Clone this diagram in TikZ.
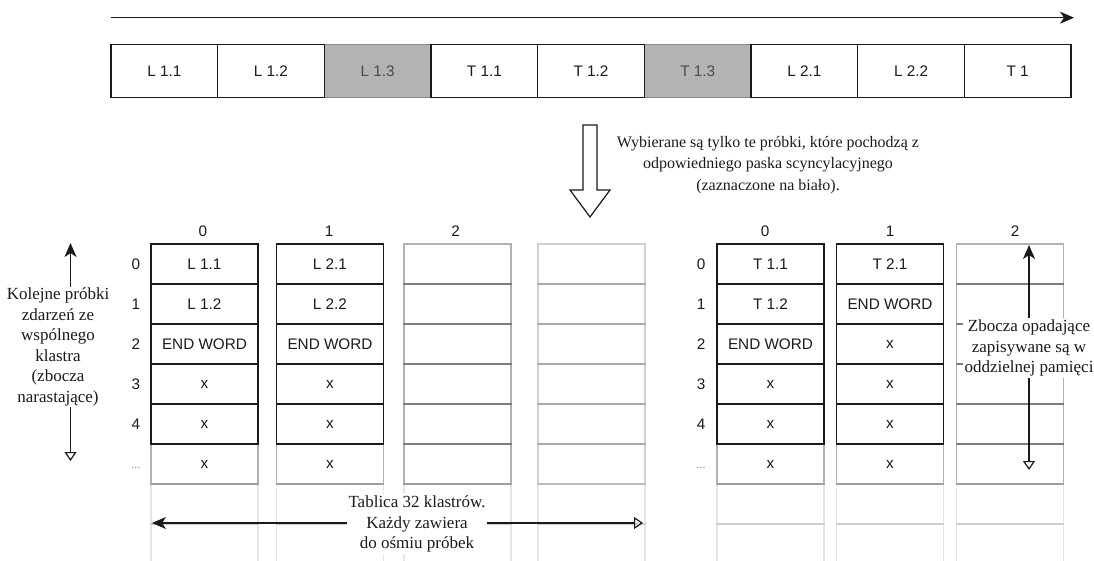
\documentclass[tikz,border=0pt]{standalone}
\usepackage{fontspec}
\setmainfont{Liberation Serif}
\newfontfamily\sansf{Liberation Sans}
\usetikzlibrary{arrows.meta}
\definecolor{ink}{HTML}{1A1A1A}
\definecolor{shade}{HTML}{B3B3B3}
\definecolor{shadeline}{HTML}{8A8A8A}
\definecolor{shadetext}{HTML}{4A4A4A}
\definecolor{dotgrey}{HTML}{777777}
\begin{document}
\begin{tikzpicture}[x=1pt,y=-1pt,
  sanstext/.style={font=\sansf\fontsize{15.3}{18}\selectfont, text=ink},
  serif/.style={font=\fontsize{17}{20.5}\selectfont, text=ink, align=center, inner sep=1.5pt},
  barcell/.style={sanstext, draw=ink, line width=1.3pt, fill=white, minimum width=106.67pt, minimum height=53.4pt, inner sep=0pt, outer sep=0pt},
  barshade/.style={barcell, fill=shade, draw=shadeline, text=shadetext},
  tcell/.style={sanstext, minimum width=107pt, minimum height=40pt, inner sep=0pt, outer sep=0pt},
  blackcell/.style={tcell, draw=ink, line width=1.3pt, fill=white},
  midcell/.style={tcell, draw=black, draw opacity=0.3, line width=1.2pt},
  lightcell/.style={tcell, draw=black, draw opacity=0.18, line width=1.2pt},
  faintcell/.style={tcell, draw=black, draw opacity=0.1, line width=1.2pt},
  conn/.style={draw=ink, line width=1.2pt},
  hollowarrow/.style={draw=ink, line width=1.2pt, fill=white, line join=miter}
]
\useasboundingbox (0,0) rectangle (1094,561);

% ---------- top timeline ----------
\coordinate (tl) at (111,17.7);
\coordinate (tr) at (1074,17.7);
\draw[conn, -{Stealth[length=14pt,width=12pt,inset=4pt]}] (tl) -- (tr);

\foreach \i/\t in {2/L 1.3, 5/T 1.3}
  \node[barshade] (bar\i) at ({111+106.67*(\i+0.5)},71) {\t};
\foreach \i/\t in {0/L 1.1, 1/L 1.2, 3/T 1.1, 4/T 1.2, 6/L 2.1, 7/L 2.2, 8/T 1}
  \node[barcell] (bar\i) at ({111+106.67*(\i+0.5)},71) {\t};

% ---------- big hollow arrow ----------
\draw[hollowarrow] (583,125) -- (597,125) -- (597,190) -- (610,190) -- (590,217)
  -- (570,190) -- (583,190) -- cycle;
\node[serif, font=\fontsize{16}{21.5}\selectfont] (info) at (768,165)
  {Wybierane są tylko te próbki, które pochodzą z\\odpowiedniego paska scyncylacyjnego\\(zaznaczone na biało).};

% ---------- faint continuation rows ----------
\foreach \xc in {204.5,330,457.5,591.5,770.5,890,1010}
  \foreach \r in {6,7}
    \node[faintcell] (f\xc-\r) at (\xc,{264+40*\r}) {};

% ---------- light column (left col 3) ----------
\foreach \r in {0,...,5}
  \node[lightcell] (L3-\r) at (591.5,{264+40*\r}) {};

% ---------- mid grey columns (col 2) ----------
\foreach \r in {0,...,5} {
  \node[midcell] (L2-\r) at (457.5,{264+40*\r}) {};
  \node[midcell] (R2-\r) at (1010,{264+40*\r}) {};
}

% ---------- row 5 (grey border, x) ----------
\node[midcell] (L0-5) at (204.5,464) {x};
\node[midcell] (L1-5) at (330,464) {x};
\node[midcell] (R0-5) at (770.5,464) {x};
\node[midcell] (R1-5) at (890,464) {x};

% ---------- black cells ----------
\foreach \r/\t in {0/L 1.1, 1/L 1.2, 2/END WORD, 3/x, 4/x}
  \node[blackcell] (L0-\r) at (204.5,{264+40*\r}) {\t};
\foreach \r/\t in {0/L 2.1, 1/L 2.2, 2/END WORD, 3/x, 4/x}
  \node[blackcell] (L1-\r) at (330,{264+40*\r}) {\t};
\foreach \r/\t in {0/T 1.1, 1/T 1.2, 2/END WORD, 3/x, 4/x}
  \node[blackcell] (R0-\r) at (770.5,{264+40*\r}) {\t};
\foreach \r/\t in {0/T 2.1, 1/END WORD, 2/x, 3/x, 4/x}
  \node[blackcell] (R1-\r) at (890,{264+40*\r}) {\t};

% ---------- headers ----------
\node[sanstext] (hL0) at (203,231) {0};
\node[sanstext] (hL1) at (329,231) {1};
\node[sanstext] (hL2) at (455.5,231) {2};
\node[sanstext] (hR0) at (765,231) {0};
\node[sanstext] (hR1) at (890,231) {1};
\node[sanstext] (hR2) at (1015,231) {2};

\foreach \r in {0,...,4} {
  \node[sanstext] (rl\r) at (136,{264+40*\r}) {\r};
  \node[sanstext] (rr\r) at (701,{264+40*\r}) {\r};
}
\node[sanstext, text=dotgrey, font=\sansf\fontsize{11}{13}\selectfont] (rl5) at (136,468) {...};
\node[sanstext, text=dotgrey, font=\sansf\fontsize{11}{13}\selectfont] (rr5) at (701,468) {...};

% ---------- left annotation ----------
\coordinate (lt) at (70.5,243);
\coordinate (lb) at (70.5,461);
\draw[conn, {Triangle[open,length=9pt,width=12pt]}-{Stealth[length=14pt,width=12pt,inset=4pt]}] (lb) -- (lt);
\node[serif, fill=white] (lnote) at (58,347)
  {Kolejne próbki\\zdarzeń ze\\wspólnego\\klastra\\(zbocza\\narastające)};

% ---------- right annotation ----------
\coordinate (rt) at (1029,245);
\coordinate (rb) at (1029,470);
\draw[conn, {Triangle[open,length=9pt,width=12pt]}-{Stealth[length=14pt,width=12pt,inset=4pt]}] (rb) -- (rt);
\node[serif, fill=white] (rnote) at (1029,348)
  {Zbocza opadające\\zapisywane są w\\oddzielnej pamięci};

% ---------- bottom annotation ----------
\coordinate (bl) at (152,523);
\coordinate (br) at (643,523);
\draw[conn, {Triangle[open,length=9pt,width=12pt]}-{Stealth[length=14pt,width=12pt,inset=4pt]}] (br) -- (bl);
\node[serif, fill=white] (bnote) at (417,524)
  {Tablica 32 klastrów.\\Każdy zawiera\\do ośmiu próbek};
\end{tikzpicture}
\end{document}
